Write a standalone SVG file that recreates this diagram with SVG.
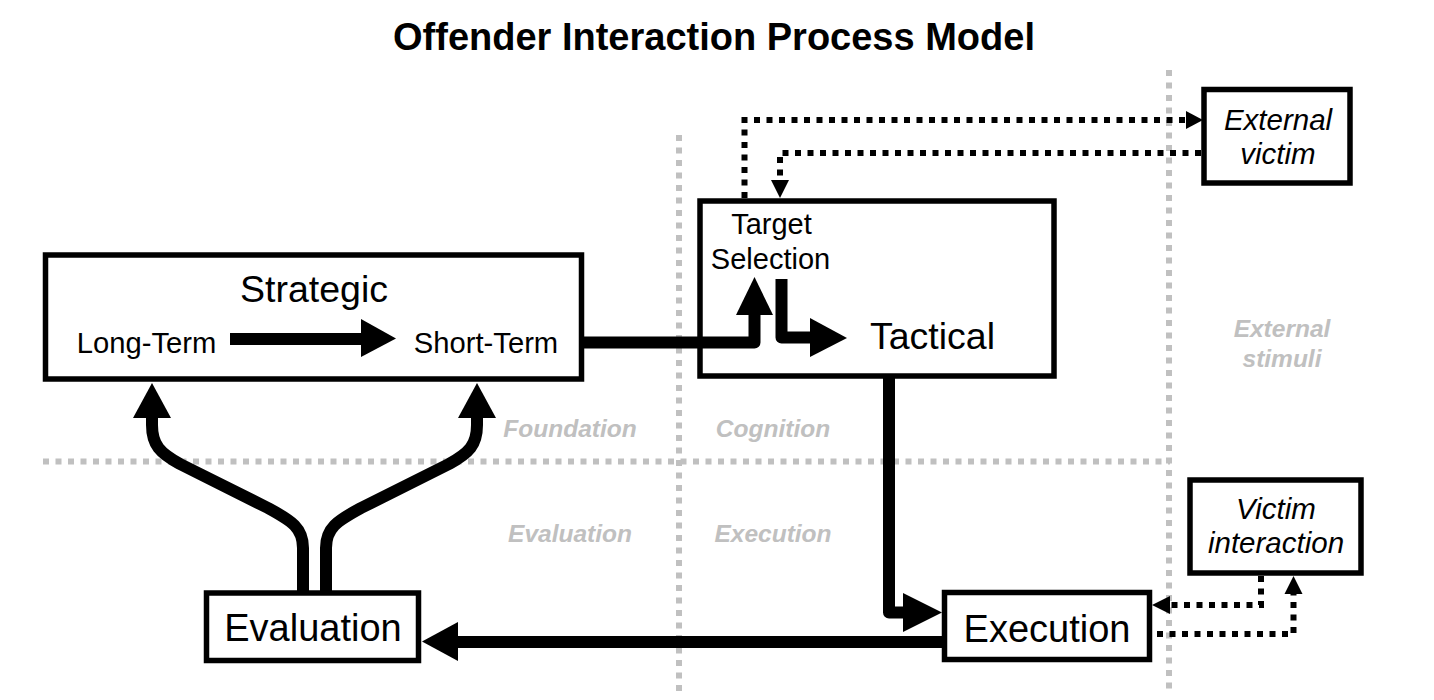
<svg xmlns="http://www.w3.org/2000/svg" width="1434" height="700" viewBox="0 0 1434 700">
<style>
.box{fill:#fff;stroke:#000;stroke-width:5.5}
.t{font-family:"Liberation Sans",Arial,sans-serif;fill:#000;text-anchor:middle}
.it{font-style:italic}
.g{font-family:"Liberation Sans",Arial,sans-serif;fill:#c0c0c0;font-weight:bold;font-style:italic;font-size:24.5px;text-anchor:middle}
.grid{stroke:#c0c0c0;stroke-width:6;stroke-dasharray:6 6.5;fill:none}
.thick{stroke:#000;stroke-width:12;fill:none;stroke-linejoin:round}
.dot{stroke:#000;stroke-width:6;stroke-dasharray:6 6.5;fill:none}
.head{fill:#000}
</style>
<rect width="1434" height="700" fill="#fff"/>
<text class="t" x="714" y="50" font-size="38" font-weight="bold">Offender Interaction Process Model</text>

<g id="grid">
<line class="grid" x1="679" y1="135" x2="679" y2="692"/>
<line class="grid" x1="1169" y1="70" x2="1169" y2="692"/>
<line class="grid" x1="43" y1="461.5" x2="1170" y2="461.5"/>
</g>

<g id="zone-labels">
<text class="g" x="570" y="437">Foundation</text>
<text class="g" x="773" y="437">Cognition</text>
<text class="g" x="570" y="542">Evaluation</text>
<text class="g" x="773" y="542">Execution</text>
<text class="g" x="1282" y="337">External</text>
<text class="g" x="1282" y="367">stimuli</text>
</g>

<g id="strategic">
<rect class="box" x="45.5" y="255" width="536" height="124"/>
<text class="t" x="314" y="302" font-size="37.5">Strategic</text>
<text class="t" x="146.5" y="353" font-size="29.2">Long-Term</text>
<text class="t" x="486" y="353" font-size="29.2">Short-Term</text>
</g>

<g id="tactical">
<rect class="box" x="700" y="201" width="354" height="175"/>
<text class="t" x="771.5" y="234" font-size="29">Target</text>
<text class="t" x="770.5" y="269" font-size="29">Selection</text>
<text class="t" x="932.5" y="349" font-size="37.5">Tactical</text>
</g>

<g id="external-victim">
<rect class="box" x="1204" y="89.5" width="146" height="93.5"/>
<text class="t it" x="1278" y="130" font-size="29.5">External</text>
<text class="t it" x="1278" y="164" font-size="29.5">victim</text>
</g>

<g id="victim-interaction">
<rect class="box" x="1190" y="480" width="171" height="93"/>
<text class="t it" x="1276" y="519" font-size="29.5">Victim</text>
<text class="t it" x="1276" y="553" font-size="29.5">interaction</text>
</g>

<g id="evaluation">
<rect class="box" x="206.5" y="593" width="212" height="67.5"/>
<text class="t" x="313" y="641" font-size="38">Evaluation</text>
</g>

<g id="execution">
<rect class="box" x="944.5" y="592.5" width="205" height="67"/>
<text class="t" x="1047" y="642" font-size="38">Execution</text>
</g>

<g id="connectors">
<line class="thick" x1="230" y1="339" x2="364" y2="339" stroke-linejoin="miter"/>
<polygon class="head" points="361,319 396,338.5 361,357"/>
<path class="thick" d="M584,342.5 H754.5 V312"/>
<polygon class="head" points="736,315 754.5,277 773,315"/>
<path class="thick" d="M781.5,279 V337.5 H813"/>
<polygon class="head" points="810,318 847,338 810,357"/>
<path class="thick" d="M889,376 V612.5 H906"/>
<polygon class="head" points="903,593 942,612.5 903,632"/>
<line class="thick" x1="944" y1="642" x2="455" y2="642"/>
<polygon class="head" points="458,622 422,641.5 458,661"/>
<path class="thick" d="M303,591 V548 C303,528 292,521 268,508 L180,464 C160,453 152,445 152,425 V415"/>
<polygon class="head" points="133,418 152,383 171,418"/>
<path class="thick" d="M326,591 V548 C326,528 337,521 361,508 L449,464 C469,453 477,445 477,425 V415"/>
<polygon class="head" points="458,418 477,383 496,418"/>
<path class="dot" d="M744.5,198 V120 H1186"/>
<polygon class="head" points="1186,111 1203,120 1186,129"/>
<path class="dot" d="M1201,153 H780 V182"/>
<polygon class="head" points="771,180 780,198 789,180"/>
<path class="dot" d="M1261,576 V605 H1169"/>
<polygon class="head" points="1170,596 1152,605 1170,614"/>
<path class="dot" d="M1157,634 H1293.5 V593"/>
<polygon class="head" points="1284.5,594 1293.5,576 1302.5,594"/>
</g>
</svg>
